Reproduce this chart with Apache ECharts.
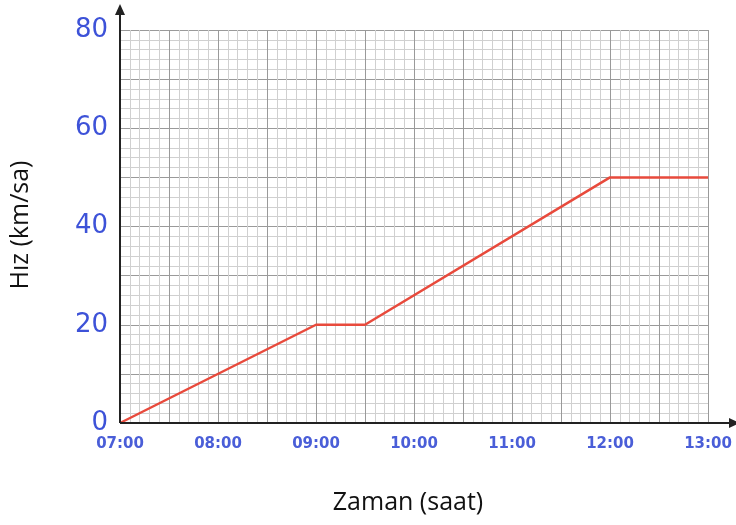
<!DOCTYPE html>
<html>
<head>
<meta charset="utf-8">
<script src="https://cdn.jsdelivr.net/npm/echarts@6/dist/echarts.min.js"></script>
<style>html,body{margin:0;padding:0;background:#fff}#c{width:736px;height:525px}</style>
</head>
<body>
<div id="c"></div>
<script>
// Data (time in hours, speed in km/sa)
const times = [7, 9, 9.5, 12, 13];
const speeds = [0, 20, 20, 50, 50];
const xTickLabels = ['07:00', '08:00', '09:00', '10:00', '11:00', '12:00', '13:00'];
const yTickLabels = ['0', '20', '40', '60', '80'];
const xTitle = 'Zaman (saat)';
const yTitle = 'Hız (km/sa)';

(function () {
const chart = echarts.init(document.getElementById('c'));
const labelFont = '"Comic Sans MS", "DejaVu Sans", sans-serif';
const blue = '#3d52d8';
chart.setOption({
  animation: false,
  grid: { left: 120, right: 28, top: 30, bottom: 102 },
  xAxis: {
    type: 'value', min: 7, max: 13, interval: 0.5,
    axisLine: { show: false },
    axisTick: { show: false },
    axisLabel: {
      color: '#4a5ed8', fontSize: 15, fontWeight: 'bold', fontFamily: labelFont, margin: 14,
      formatter: v => {
        if (!Number.isInteger(v)) return '';
        return xTickLabels[v - 7] || '';
      }
    },
    splitLine: { show: true, lineStyle: { color: '#9a9a9a', width: 1 } },
    minorTick: { show: false, splitNumber: 5 },
    minorSplitLine: { show: true, lineStyle: { color: '#d0d0d0', width: 1 } }
  },
  yAxis: {
    type: 'value', min: 0, max: 80, interval: 10,
    axisLine: { show: false },
    axisTick: { show: false },
    axisLabel: {
      color: blue, fontSize: 26, fontFamily: labelFont, margin: 12,
      formatter: v => (yTickLabels.indexOf(String(v)) >= 0 ? String(v) : '')
    },
    splitLine: { show: true, lineStyle: { color: '#9a9a9a', width: 1 } },
    minorTick: { show: false, splitNumber: 5 },
    minorSplitLine: { show: true, lineStyle: { color: '#d0d0d0', width: 1 } }
  },
  series: [{
    type: 'line',
    data: times.map((t, i) => [t, speeds[i]]),
    showSymbol: false,
    lineStyle: { color: '#e84a3c', width: 2.5 },
    z: 5
  }]
});

const o = chart.convertToPixel({ xAxisIndex: 0, yAxisIndex: 0 }, [7, 0]);
const tp = chart.convertToPixel({ xAxisIndex: 0, yAxisIndex: 0 }, [7, 80]);
const rt = chart.convertToPixel({ xAxisIndex: 0, yAxisIndex: 0 }, [13, 0]);
const yEnd = tp[1] - 20, xEnd = rt[0] + 26;
const titleFont = '25px "Open Sans", "Liberation Sans", sans-serif';
chart.setOption({
  graphic: [
    { type: 'line', shape: { x1: o[0], y1: o[1], x2: o[0], y2: yEnd + 4 }, style: { stroke: '#222', lineWidth: 2 }, z: 10 },
    { type: 'polygon', shape: { points: [[o[0], yEnd - 6], [o[0] - 5, yEnd + 5], [o[0] + 5, yEnd + 5]] }, style: { fill: '#222' }, z: 10 },
    { type: 'line', shape: { x1: o[0], y1: o[1], x2: xEnd - 4, y2: o[1] }, style: { stroke: '#222', lineWidth: 2 }, z: 10 },
    { type: 'polygon', shape: { points: [[xEnd + 6, o[1]], [xEnd - 5, o[1] - 5], [xEnd - 5, o[1] + 5]] }, style: { fill: '#222' }, z: 10 },
    { type: 'text', x: 21, y: 225, rotation: Math.PI / 2, style: { text: yTitle, font: titleFont, fill: '#111', align: 'center', verticalAlign: 'middle' } },
    { type: 'text', x: 408, y: 503, style: { text: xTitle, font: titleFont, fill: '#111', align: 'center', verticalAlign: 'middle' } }
  ]
});
})();
</script>
</body>
</html>
